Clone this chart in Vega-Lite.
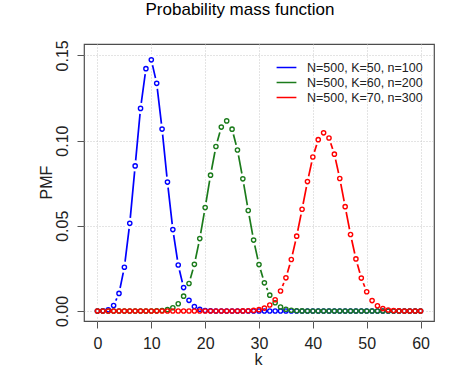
{
  "$schema": "https://vega.github.io/schema/vega-lite/v6.json",
  "width": 350,
  "height": 277,
  "autosize": {"type": "none"},
  "padding": {"left": 84, "top": 44, "right": 20, "bottom": 50},
  "background": "white",
  "config": {
    "font": "Liberation Sans",
    "view": {"stroke": "#4d4d4d", "strokeWidth": 1.2}
  },
  "title": {
    "text": "Probability mass function",
    "fontSize": 17,
    "fontWeight": "normal",
    "color": "#000000",
    "anchor": "middle",
    "frame": "group",
    "baseline": "alphabetic",
    "offset": 8,
    "dx": -19
  },
  "data": {"values": [
    {"s":"N=500, K=50, n=100","k":0,"p":0.0000074},
    {"s":"N=500, K=50, n=100","k":1,"p":0.000105},
    {"s":"N=500, K=50, n=100","k":2,"p":0.000722},
    {"s":"N=500, K=50, n=100","k":3,"p":0.003209},
    {"s":"N=500, K=50, n=100","k":4,"p":0.010333},
    {"s":"N=500, K=50, n=100","k":5,"p":0.025707},
    {"s":"N=500, K=50, n=100","k":6,"p":0.051451},
    {"s":"N=500, K=50, n=100","k":7,"p":0.085157},
    {"s":"N=500, K=50, n=100","k":8,"p":0.118903},
    {"s":"N=500, K=50, n=100","k":9,"p":0.142197},
    {"s":"N=500, K=50, n=100","k":10,"p":0.14737},
    {"s":"N=500, K=50, n=100","k":11,"p":0.133602},
    {"s":"N=500, K=50, n=100","k":12,"p":0.106752},
    {"s":"N=500, K=50, n=100","k":13,"p":0.075647},
    {"s":"N=500, K=50, n=100","k":14,"p":0.047784},
    {"s":"N=500, K=50, n=100","k":15,"p":0.02702},
    {"s":"N=500, K=50, n=100","k":16,"p":0.013727},
    {"s":"N=500, K=50, n=100","k":17,"p":0.006284},
    {"s":"N=500, K=50, n=100","k":18,"p":0.002598},
    {"s":"N=500, K=50, n=100","k":19,"p":0.000973},
    {"s":"N=500, K=50, n=100","k":20,"p":0.00033},
    {"s":"N=500, K=50, n=100","k":21,"p":0.000102},
    {"s":"N=500, K=50, n=100","k":22,"p":0.0000284},
    {"s":"N=500, K=50, n=100","k":23,"p":0.0000072},
    {"s":"N=500, K=50, n=100","k":24,"p":0.0000017},
    {"s":"N=500, K=50, n=100","k":25,"p":0},
    {"s":"N=500, K=50, n=100","k":26,"p":0},
    {"s":"N=500, K=50, n=100","k":27,"p":0},
    {"s":"N=500, K=50, n=100","k":28,"p":0},
    {"s":"N=500, K=50, n=100","k":29,"p":0},
    {"s":"N=500, K=50, n=100","k":30,"p":0},
    {"s":"N=500, K=50, n=100","k":31,"p":0},
    {"s":"N=500, K=50, n=100","k":32,"p":0},
    {"s":"N=500, K=50, n=100","k":33,"p":0},
    {"s":"N=500, K=50, n=100","k":34,"p":0},
    {"s":"N=500, K=50, n=100","k":35,"p":0},
    {"s":"N=500, K=50, n=100","k":36,"p":0},
    {"s":"N=500, K=50, n=100","k":37,"p":0},
    {"s":"N=500, K=50, n=100","k":38,"p":0},
    {"s":"N=500, K=50, n=100","k":39,"p":0},
    {"s":"N=500, K=50, n=100","k":40,"p":0},
    {"s":"N=500, K=50, n=100","k":41,"p":0},
    {"s":"N=500, K=50, n=100","k":42,"p":0},
    {"s":"N=500, K=50, n=100","k":43,"p":0},
    {"s":"N=500, K=50, n=100","k":44,"p":0},
    {"s":"N=500, K=50, n=100","k":45,"p":0},
    {"s":"N=500, K=50, n=100","k":46,"p":0},
    {"s":"N=500, K=50, n=100","k":47,"p":0},
    {"s":"N=500, K=50, n=100","k":48,"p":0},
    {"s":"N=500, K=50, n=100","k":49,"p":0},
    {"s":"N=500, K=50, n=100","k":50,"p":0},
    {"s":"N=500, K=50, n=100","k":51,"p":0},
    {"s":"N=500, K=50, n=100","k":52,"p":0},
    {"s":"N=500, K=50, n=100","k":53,"p":0},
    {"s":"N=500, K=50, n=100","k":54,"p":0},
    {"s":"N=500, K=50, n=100","k":55,"p":0},
    {"s":"N=500, K=50, n=100","k":56,"p":0},
    {"s":"N=500, K=50, n=100","k":57,"p":0},
    {"s":"N=500, K=50, n=100","k":58,"p":0},
    {"s":"N=500, K=50, n=100","k":59,"p":0},
    {"s":"N=500, K=50, n=100","k":60,"p":0},
    {"s":"N=500, K=60, n=200","k":0,"p":0},
    {"s":"N=500, K=60, n=200","k":1,"p":0},
    {"s":"N=500, K=60, n=200","k":2,"p":0},
    {"s":"N=500, K=60, n=200","k":3,"p":0},
    {"s":"N=500, K=60, n=200","k":4,"p":0},
    {"s":"N=500, K=60, n=200","k":5,"p":0},
    {"s":"N=500, K=60, n=200","k":6,"p":0},
    {"s":"N=500, K=60, n=200","k":7,"p":0.0000003},
    {"s":"N=500, K=60, n=200","k":8,"p":0.0000016},
    {"s":"N=500, K=60, n=200","k":9,"p":0.0000069},
    {"s":"N=500, K=60, n=200","k":10,"p":0.0000268},
    {"s":"N=500, K=60, n=200","k":11,"p":0.0000923},
    {"s":"N=500, K=60, n=200","k":12,"p":0.000283},
    {"s":"N=500, K=60, n=200","k":13,"p":0.000776},
    {"s":"N=500, K=60, n=200","k":14,"p":0.001917},
    {"s":"N=500, K=60, n=200","k":15,"p":0.004289},
    {"s":"N=500, K=60, n=200","k":16,"p":0.008717},
    {"s":"N=500, K=60, n=200","k":17,"p":0.016153},
    {"s":"N=500, K=60, n=200","k":18,"p":0.02737},
    {"s":"N=500, K=60, n=200","k":19,"p":0.042514},
    {"s":"N=500, K=60, n=200","k":20,"p":0.060673},
    {"s":"N=500, K=60, n=200","k":21,"p":0.079702},
    {"s":"N=500, K=60, n=200","k":22,"p":0.09653},
    {"s":"N=500, K=60, n=200","k":23,"p":0.107941},
    {"s":"N=500, K=60, n=200","k":24,"p":0.11157},
    {"s":"N=500, K=60, n=200","k":25,"p":0.106703},
    {"s":"N=500, K=60, n=200","k":26,"p":0.0945},
    {"s":"N=500, K=60, n=200","k":27,"p":0.07755},
    {"s":"N=500, K=60, n=200","k":28,"p":0.058999},
    {"s":"N=500, K=60, n=200","k":29,"p":0.041627},
    {"s":"N=500, K=60, n=200","k":30,"p":0.027242},
    {"s":"N=500, K=60, n=200","k":31,"p":0.016538},
    {"s":"N=500, K=60, n=200","k":32,"p":0.009312},
    {"s":"N=500, K=60, n=200","k":33,"p":0.004862},
    {"s":"N=500, K=60, n=200","k":34,"p":0.002353},
    {"s":"N=500, K=60, n=200","k":35,"p":0.001055},
    {"s":"N=500, K=60, n=200","k":36,"p":0.000438},
    {"s":"N=500, K=60, n=200","k":37,"p":0.000168},
    {"s":"N=500, K=60, n=200","k":38,"p":0.0000597},
    {"s":"N=500, K=60, n=200","k":39,"p":0.0000195},
    {"s":"N=500, K=60, n=200","k":40,"p":0.0000059},
    {"s":"N=500, K=60, n=200","k":41,"p":0.0000016},
    {"s":"N=500, K=60, n=200","k":42,"p":0.0000004},
    {"s":"N=500, K=60, n=200","k":43,"p":0},
    {"s":"N=500, K=60, n=200","k":44,"p":0},
    {"s":"N=500, K=60, n=200","k":45,"p":0},
    {"s":"N=500, K=60, n=200","k":46,"p":0},
    {"s":"N=500, K=60, n=200","k":47,"p":0},
    {"s":"N=500, K=60, n=200","k":48,"p":0},
    {"s":"N=500, K=60, n=200","k":49,"p":0},
    {"s":"N=500, K=60, n=200","k":50,"p":0},
    {"s":"N=500, K=60, n=200","k":51,"p":0},
    {"s":"N=500, K=60, n=200","k":52,"p":0},
    {"s":"N=500, K=60, n=200","k":53,"p":0},
    {"s":"N=500, K=60, n=200","k":54,"p":0},
    {"s":"N=500, K=60, n=200","k":55,"p":0},
    {"s":"N=500, K=60, n=200","k":56,"p":0},
    {"s":"N=500, K=60, n=200","k":57,"p":0},
    {"s":"N=500, K=60, n=200","k":58,"p":0},
    {"s":"N=500, K=60, n=200","k":59,"p":0},
    {"s":"N=500, K=60, n=200","k":60,"p":0},
    {"s":"N=500, K=70, n=300","k":0,"p":0},
    {"s":"N=500, K=70, n=300","k":1,"p":0},
    {"s":"N=500, K=70, n=300","k":2,"p":0},
    {"s":"N=500, K=70, n=300","k":3,"p":0},
    {"s":"N=500, K=70, n=300","k":4,"p":0},
    {"s":"N=500, K=70, n=300","k":5,"p":0},
    {"s":"N=500, K=70, n=300","k":6,"p":0},
    {"s":"N=500, K=70, n=300","k":7,"p":0},
    {"s":"N=500, K=70, n=300","k":8,"p":0},
    {"s":"N=500, K=70, n=300","k":9,"p":0},
    {"s":"N=500, K=70, n=300","k":10,"p":0},
    {"s":"N=500, K=70, n=300","k":11,"p":0},
    {"s":"N=500, K=70, n=300","k":12,"p":0},
    {"s":"N=500, K=70, n=300","k":13,"p":0},
    {"s":"N=500, K=70, n=300","k":14,"p":0},
    {"s":"N=500, K=70, n=300","k":15,"p":0},
    {"s":"N=500, K=70, n=300","k":16,"p":0},
    {"s":"N=500, K=70, n=300","k":17,"p":0},
    {"s":"N=500, K=70, n=300","k":18,"p":0},
    {"s":"N=500, K=70, n=300","k":19,"p":0},
    {"s":"N=500, K=70, n=300","k":20,"p":0},
    {"s":"N=500, K=70, n=300","k":21,"p":0},
    {"s":"N=500, K=70, n=300","k":22,"p":0.0000001},
    {"s":"N=500, K=70, n=300","k":23,"p":0.0000005},
    {"s":"N=500, K=70, n=300","k":24,"p":0.0000019},
    {"s":"N=500, K=70, n=300","k":25,"p":0.0000061},
    {"s":"N=500, K=70, n=300","k":26,"p":0.0000185},
    {"s":"N=500, K=70, n=300","k":27,"p":0.0000526},
    {"s":"N=500, K=70, n=300","k":28,"p":0.000139},
    {"s":"N=500, K=70, n=300","k":29,"p":0.000346},
    {"s":"N=500, K=70, n=300","k":30,"p":0.0008},
    {"s":"N=500, K=70, n=300","k":31,"p":0.001731},
    {"s":"N=500, K=70, n=300","k":32,"p":0.003503},
    {"s":"N=500, K=70, n=300","k":33,"p":0.006632},
    {"s":"N=500, K=70, n=300","k":34,"p":0.011749},
    {"s":"N=500, K=70, n=300","k":35,"p":0.019483},
    {"s":"N=500, K=70, n=300","k":36,"p":0.030238},
    {"s":"N=500, K=70, n=300","k":37,"p":0.043926},
    {"s":"N=500, K=70, n=300","k":38,"p":0.059717},
    {"s":"N=500, K=70, n=300","k":39,"p":0.075963},
    {"s":"N=500, K=70, n=300","k":40,"p":0.090384},
    {"s":"N=500, K=70, n=300","k":41,"p":0.100556},
    {"s":"N=500, K=70, n=300","k":42,"p":0.104551},
    {"s":"N=500, K=70, n=300","k":43,"p":0.10153},
    {"s":"N=500, K=70, n=300","k":44,"p":0.092022},
    {"s":"N=500, K=70, n=300","k":45,"p":0.077778},
    {"s":"N=500, K=70, n=300","k":46,"p":0.061245},
    {"s":"N=500, K=70, n=300","k":47,"p":0.04488},
    {"s":"N=500, K=70, n=300","k":48,"p":0.030566},
    {"s":"N=500, K=70, n=300","k":49,"p":0.01932},
    {"s":"N=500, K=70, n=300","k":50,"p":0.011315},
    {"s":"N=500, K=70, n=300","k":51,"p":0.006129},
    {"s":"N=500, K=70, n=300","k":52,"p":0.003064},
    {"s":"N=500, K=70, n=300","k":53,"p":0.00141},
    {"s":"N=500, K=70, n=300","k":54,"p":0.000596},
    {"s":"N=500, K=70, n=300","k":55,"p":0.000231},
    {"s":"N=500, K=70, n=300","k":56,"p":0.0000813},
    {"s":"N=500, K=70, n=300","k":57,"p":0.000026},
    {"s":"N=500, K=70, n=300","k":58,"p":0.0000075},
    {"s":"N=500, K=70, n=300","k":59,"p":0.000002},
    {"s":"N=500, K=70, n=300","k":60,"p":0.0000005}
  ]},
  "encoding": {
    "x": {
      "field": "k", "type": "quantitative",
      "scale": {"domain": [-2.5, 62.5], "nice": false, "zero": false},
      "axis": {
        "values": [0, 10, 20, 30, 40, 50, 60],
        "grid": true, "gridDash": [1, 2], "gridColor": "#c8c8c8", "gridWidth": 1,
        "domain": false, "ticks": true, "tickColor": "#555555", "tickSize": 7, "tickWidth": 1,
        "labelFontSize": 16, "labelColor": "#222222", "labelPadding": 7, "labelFlush": false,
        "title": "k", "titleFontSize": 16, "titleFontWeight": "normal", "titleColor": "#222222",
        "titleBaseline": "alphabetic", "titleX": 174, "titleY": 43, "titleAlign": "center"
      }
    },
    "y": {
      "field": "p", "type": "quantitative",
      "scale": {"domain": [-0.00586, 0.15668], "nice": false, "zero": false},
      "axis": {
        "values": [0, 0.05, 0.1, 0.15], "format": ".2f",
        "grid": true, "gridDash": [1, 2], "gridColor": "#c8c8c8", "gridWidth": 1,
        "domain": false, "ticks": true, "tickColor": "#555555", "tickSize": 7, "tickWidth": 1,
        "labelFontSize": 16, "labelColor": "#222222", "labelAngle": -90, "labelAlign": "center",
        "labelBaseline": "alphabetic", "labelPadding": 10, "labelFlush": false,
        "title": "PMF", "titleFontSize": 16, "titleFontWeight": "normal", "titleColor": "#222222",
        "titleAngle": -90, "titleBaseline": "alphabetic", "titleAlign": "center",
        "titleX": -33, "titleY": 138
      }
    }
  },
  "layer": [
    {
      "mark": {"type": "line", "strokeWidth": 1.7},
      "encoding": {
        "color": {
          "field": "s", "type": "nominal",
          "scale": {
            "domain": ["N=500, K=50, n=100", "N=500, K=60, n=200", "N=500, K=70, n=300"],
            "range": ["#0000ff", "#1b7b1b", "#ff0000"]
          },
          "legend": {
            "orient": "none", "legendX": 196, "legendY": 17, "title": null,
            "symbolType": "M-1.8,0H1.8", "symbolSize": 121, "symbolStrokeWidth": 1.5,
            "symbolFillColor": "transparent",
            "labelFontSize": 12.5, "labelColor": "#222222", "labelOffset": 14,
            "rowPadding": 2, "padding": 0
          }
        }
      }
    },
    {
      "mark": {"type": "point", "shape": "circle", "filled": true, "fill": "white", "size": 125, "strokeWidth": 0, "opacity": 1}
    },
    {
      "mark": {"type": "point", "shape": "circle", "filled": false, "size": 18, "strokeWidth": 1.4, "opacity": 1},
      "encoding": {
        "color": {"field": "s", "type": "nominal", "legend": null}
      }
    }
  ]
}
